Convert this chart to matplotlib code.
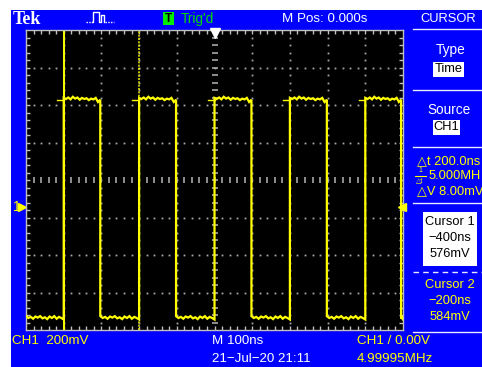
import matplotlib
matplotlib.use('Agg')
import matplotlib.pyplot as plt
import numpy as np

# CH1 trace, 100 ns/div horizontal, 200 mV/div vertical
rise_ns = [-400, -200, 0, 200, 400]
fall_ns = [-303, -102, 98, 298, 495]
high_mv = 572
low_mv = -588
high_ripple = [10, 4, 12, 2, 16, 6, 12, 0, 10, 4, 8, -2, 6, 2, 10, -12, 0]
low_ripple = [6, -4, 2, -8, 4, -2, 6, -6, 0, -10, 4, -4, 6, -8, 2, -4, -12]
hook_ns = [18, 18, 18, 18, 18]
cursor_ns = [-400, -200]

# menu / readout texts
top_texts = ["Tek", "Trig'd", "M Pos: 0.000s", "CURSOR"]
menu_labels = ["Type", "Source"]
menu_values = ["Time", "CH1"]
delta_texts = ["\u25b3t 200.0ns", "5.000MH", "\u25b3V 8.00mV"]
cursor1_texts = ["Cursor 1", "\u2212400ns", "576mV"]
cursor2_texts = ["Cursor 2", "\u2212200ns", "584mV"]
bottom_row1 = ["CH1  200mV", "M 100ns", "CH1 / 0.00V"]
bottom_row2 = ["21\u2212Jul\u221220 21:11", "4.99995MHz"]

BLUE = '#0000ff'
YEL = '#ffff00'
GRID = '#a8a8a8'
FONT = ['Liberation Sans', 'DejaVu Sans']
FS = 9.3

W, H = 482, 367
fig = plt.figure(figsize=(W / 100, H / 100), dpi=100)
fig.patch.set_facecolor('white')

# background axes in pixel coordinates
bg = fig.add_axes([0, 0, 1, 1])
bg.set_xlim(0, W)
bg.set_ylim(H, 0)
bg.axis('off')
bg.add_patch(plt.Rectangle((11, 10), W - 11, H - 10, color=BLUE, lw=0))

# scope screen
x0, x1, y0, y1 = 26, 403, 30, 330
ax = fig.add_axes([x0 / W, (H - y1) / H, (x1 - x0) / W, (y1 - y0) / H])
ax.set_facecolor('black')
gnd_px = 207
ctr_mv = (gnd_px - 180) / 37.5 * 200
vlo, vhi = ctr_mv - 800, ctr_mv + 800
ax.set_xlim(-500, 500)
ax.set_ylim(vlo, vhi)
for s in ax.spines.values():
    s.set_color('#c0c0c0')
    s.set_linewidth(1)
ax.set_xticks(np.arange(-480, 481, 20))
ax.set_yticks(np.arange(vlo + 40, vhi - 1, 40))
ax.tick_params(direction='in', length=3, width=1, color='#c0c0c0',
               top=True, right=True, labelbottom=False, labelleft=False)

# graticule dots
tdots = np.arange(-480, 481, 20)
vdots = np.arange(vlo + 40, vhi - 1, 40)
for k in [-3, -2, -1, 1, 2, 3]:
    ax.plot(tdots, np.full(len(tdots), ctr_mv + 200 * k), ls='none', marker='s',
            ms=1.3, mew=0, color=GRID, zorder=1)
for t in [-400, -300, -200, -100, 100, 200, 300, 400]:
    ax.plot(np.full(len(vdots), t), vdots, ls='none', marker='s',
            ms=1.3, mew=0, color=GRID, zorder=1)
ax.plot(tdots, np.full(len(tdots), ctr_mv), ls='none', marker='|',
        ms=4, mew=1.2, color=GRID, zorder=1)
ax.plot(np.zeros(len(vdots)), vdots, ls='none', marker='_',
        ms=4, mew=1.2, color=GRID, zorder=1)

# cursors
ax.axvline(cursor_ns[0], color=YEL, lw=1.4, zorder=2)
ax.axvline(cursor_ns[1], color='#e0e000', lw=1.2, ls=(0, (1.2, 0.8)), zorder=2)

# trace
edges = sorted([(t, 'r') for t in rise_ns] + [(t, 'f') for t in fall_ns])
bounds = [-500] + [e[0] for e in edges] + [500]
levels = [low_mv] + [high_mv if e[1] == 'r' else low_mv for e in edges]
tt, vv = [], []
for i, lev in enumerate(levels):
    rip = high_ripple if lev == high_mv else low_ripple
    ts = np.linspace(bounds[i], bounds[i + 1], len(rip))
    tt.extend(ts)
    vv.extend(lev + np.array(rip))
ax.plot(tt, vv, color=YEL, lw=1.6, zorder=3, solid_joinstyle='miter')
for r, h in zip(rise_ns, hook_ns):
    ax.plot([r - h, r], [high_mv, high_mv], color=YEL, lw=1.0, zorder=3)

# trigger position and level markers
ax.plot([0], [vhi - 14], marker='v', ms=7, color='white', mec='white',
        clip_on=False, zorder=4)
ax.plot([497], [0], marker='<', ms=6, color=YEL, clip_on=False, zorder=4)

# ---- top bar ----
bg.text(13, 19, top_texts[0], color='white', fontsize=13, fontweight='bold',
        family=['Liberation Serif', 'DejaVu Serif'], va='center', ha='left')
# trigger mode icon
bg.plot([86, 92], [22, 22], color='white', lw=1, ls=(0, (1, 1)))
bg.plot([92, 93, 93, 99, 99, 101, 101, 104, 104],
        [22, 22, 12, 12, 22, 22, 15, 15, 22], color='white', lw=1)
bg.plot([105, 114], [22, 22], color='white', lw=1, ls=(0, (1, 1)))
bg.add_patch(plt.Rectangle((163, 12), 11, 13, color='#00ee00', lw=0))
bg.text(168.5, 19, 'T', color='black', fontsize=8.5, fontweight='bold',
        family=FONT, ha='center', va='center')
bg.text(181, 19, top_texts[1], color='#00dd00', fontsize=FS + 0.5, family=FONT,
        ha='left', va='center')
bg.text(282, 19, top_texts[2], color='white', fontsize=FS + 0.3, family=FONT,
        ha='left', va='center')
bg.text(448, 19, top_texts[3], color='white', fontsize=FS, family=FONT,
        ha='center', va='center')

# ---- right menu ----
for ys in [29, 90, 147, 203, 332]:
    bg.plot([413, W], [ys, ys], color='#e8e8ff', lw=1)
bg.plot([413, W], [272, 272], color='#e8e8ff', lw=1, ls=(0, (4, 3)))

bg.text(451, 50, menu_labels[0], color='white', fontsize=FS + 0.5, family=FONT,
        ha='center', va='center')
bg.add_patch(plt.Rectangle((433, 62), 31, 15, color='white', lw=0))
bg.text(448.5, 69.5, menu_values[0], color='black', fontsize=FS, family=FONT,
        ha='center', va='center')
bg.text(449, 110, menu_labels[1], color='white', fontsize=FS + 0.5, family=FONT,
        ha='center', va='center')
bg.add_patch(plt.Rectangle((433, 120), 27, 15, color='white', lw=0))
bg.text(446.5, 127.5, menu_values[1], color='black', fontsize=FS, family=FONT,
        ha='center', va='center')

bg.text(417, 161, delta_texts[0], color=YEL, fontsize=FS, family=FONT,
        ha='left', va='center')
bg.text(420, 171, '1', color=YEL, fontsize=5, family=FONT, ha='center', va='center')
bg.plot([415, 426], [175.5, 175.5], color=YEL, lw=0.8)
bg.text(420, 180.5, '\u25b3t', color=YEL, fontsize=5, family=FONT,
        ha='center', va='center')
bg.text(429, 176, delta_texts[1], color=YEL, fontsize=FS, family=FONT,
        ha='left', va='center')
bg.text(417, 191, delta_texts[2], color=YEL, fontsize=FS, family=FONT,
        ha='left', va='center')

bg.add_patch(plt.Rectangle((423, 212), 54, 54, color='white', lw=0))
for txt, yy in zip(cursor1_texts, [222, 238, 254]):
    bg.text(450, yy, txt, color='black', fontsize=FS, family=FONT,
            ha='center', va='center')
for txt, yy in zip(cursor2_texts, [285, 301, 317]):
    bg.text(450, yy, txt, color=YEL, fontsize=FS, family=FONT,
            ha='center', va='center')

# ---- bottom readouts ----
bg.text(12, 341, bottom_row1[0], color=YEL, fontsize=FS + 0.3, family=FONT,
        ha='left', va='center')
bg.text(212, 341, bottom_row1[1], color='white', fontsize=FS + 0.3, family=FONT,
        ha='left', va='center')
bg.text(357, 341, bottom_row1[2], color=YEL, fontsize=FS + 0.3, family=FONT,
        ha='left', va='center')
bg.text(212, 359, bottom_row2[0], color='white', fontsize=FS + 0.3, family=FONT,
        ha='left', va='center')
bg.text(357, 359, bottom_row2[1], color=YEL, fontsize=FS + 0.3, family=FONT,
        ha='left', va='center')

# channel ground marker
bg.text(13, 207, '1', color=YEL, fontsize=10, family=FONT, ha='left', va='center')
bg.plot([22], [207], marker='>', ms=6, color=YEL)

fig.savefig('out.png', dpi=100, facecolor='white')
